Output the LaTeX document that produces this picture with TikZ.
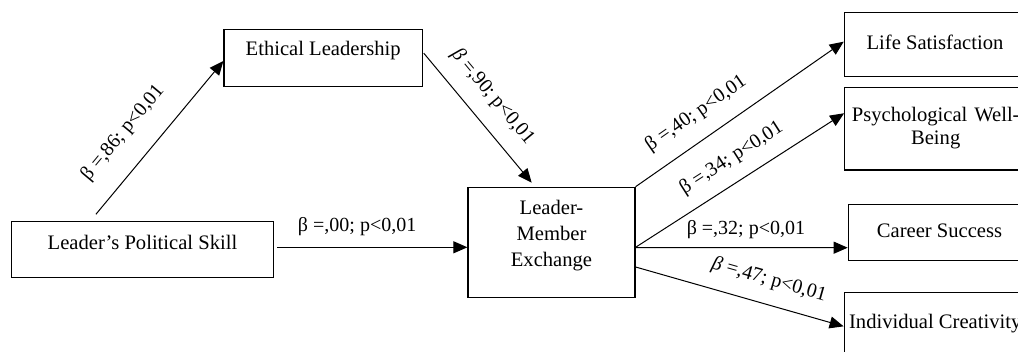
\documentclass[tikz,border=0pt]{standalone}
\usepackage{fontspec}
\setmainfont{Liberation Serif}
\usetikzlibrary{arrows.meta}
\tikzstyle{line} = [draw, line width=0.5pt, -{Triangle[length=7pt,width=6pt]}]
\tikzstyle{box} = [draw, line width=0.6pt, inner sep=0pt, font=\fontsize{10.3}{13}\selectfont]
\tikzstyle{coef} = [font=\fontsize{10}{12}\selectfont, inner sep=1pt]

\begin{document}
\begin{tikzpicture}[x=0.5pt,y=-0.5pt]
\useasboundingbox (0,0) rectangle (1018,352);
\clip (0,0) rectangle (1018,352);
\node[box, minimum width=130.8pt, text height=13.8pt, text depth=14.2pt] (lps) at (142.5,249.7) {Leader's Political Skill};
\node[box, minimum width=99.2pt, text height=13.3pt, text depth=15.3pt] (el) at (323.2,58) {Ethical Leadership};
\node[box, text width=83.5pt, align=center, text height=13.85pt, text depth=41.15pt] (lmx) at (551.5,242.3) {Leader-\\Member\\Exchange};
\node[box, minimum width=90.7pt, text height=18.85pt, text depth=13.35pt] (ls) at (935,44.5) {Life Satisfaction};
\node[box, text width=91pt, align=center, text height=17.2pt, text depth=24.15pt, font=\fontsize{10.3}{11.2}\selectfont] (pwb) at (935.7,128.65) {Psychological Well-\\Being};
\node[box, minimum width=91.2pt, text height=16.85pt, text depth=11.35pt] (cs) at (939.5,232.5) {Career Success};
\node[box, minimum width=91pt, text height=17.8pt, text depth=15.9pt] (ic) at (935.2,326.35) {Individual Creativity};
\draw[line] ([xshift=-23.3pt,yshift=3.4pt]lps.north) -- node[coef, sloped, pos=0.4, above=9.8pt] {β =,86; p<0,01} ([yshift=-1.5pt]el.west);
\draw[line] ([xshift=0.4pt,yshift=2.4pt]el.east) -- node[coef, sloped, pos=0.46, above=6.7pt] {\textit{β} =,90; p<0,01} ([xshift=-9.9pt,yshift=2pt]lmx.north);
\draw[line] ([xshift=1.7pt,yshift=1.2pt]lps.east) -- node[coef, pos=0.42, above=4.3pt] {β =,00; p<0,01} ([yshift=-2.5pt]lmx.west);
\draw[line] (lmx.north east) -- node[coef, sloped, pos=0.36, above=6.8pt] {β =,40; p<0,01} ([yshift=1.4pt]ls.west);
\draw[line] ([yshift=-2.5pt]lmx.east) -- node[coef, sloped, pos=0.52, above=5.7pt] {β =,34; p<0,01} ([yshift=7.7pt]pwb.west);
\draw[line] ([yshift=-2.7pt]lmx.east) -- node[coef, pos=0.52, above=3.2pt] {β =,32; p<0,01} ([yshift=-7.6pt]cs.west);
\draw[line] ([yshift=-12.35pt]lmx.east) -- node[coef, sloped, pos=0.61, above=6.2pt] {\textit{β} =,47; p<0,01} (ic.west);
\end{tikzpicture}
\end{document}
